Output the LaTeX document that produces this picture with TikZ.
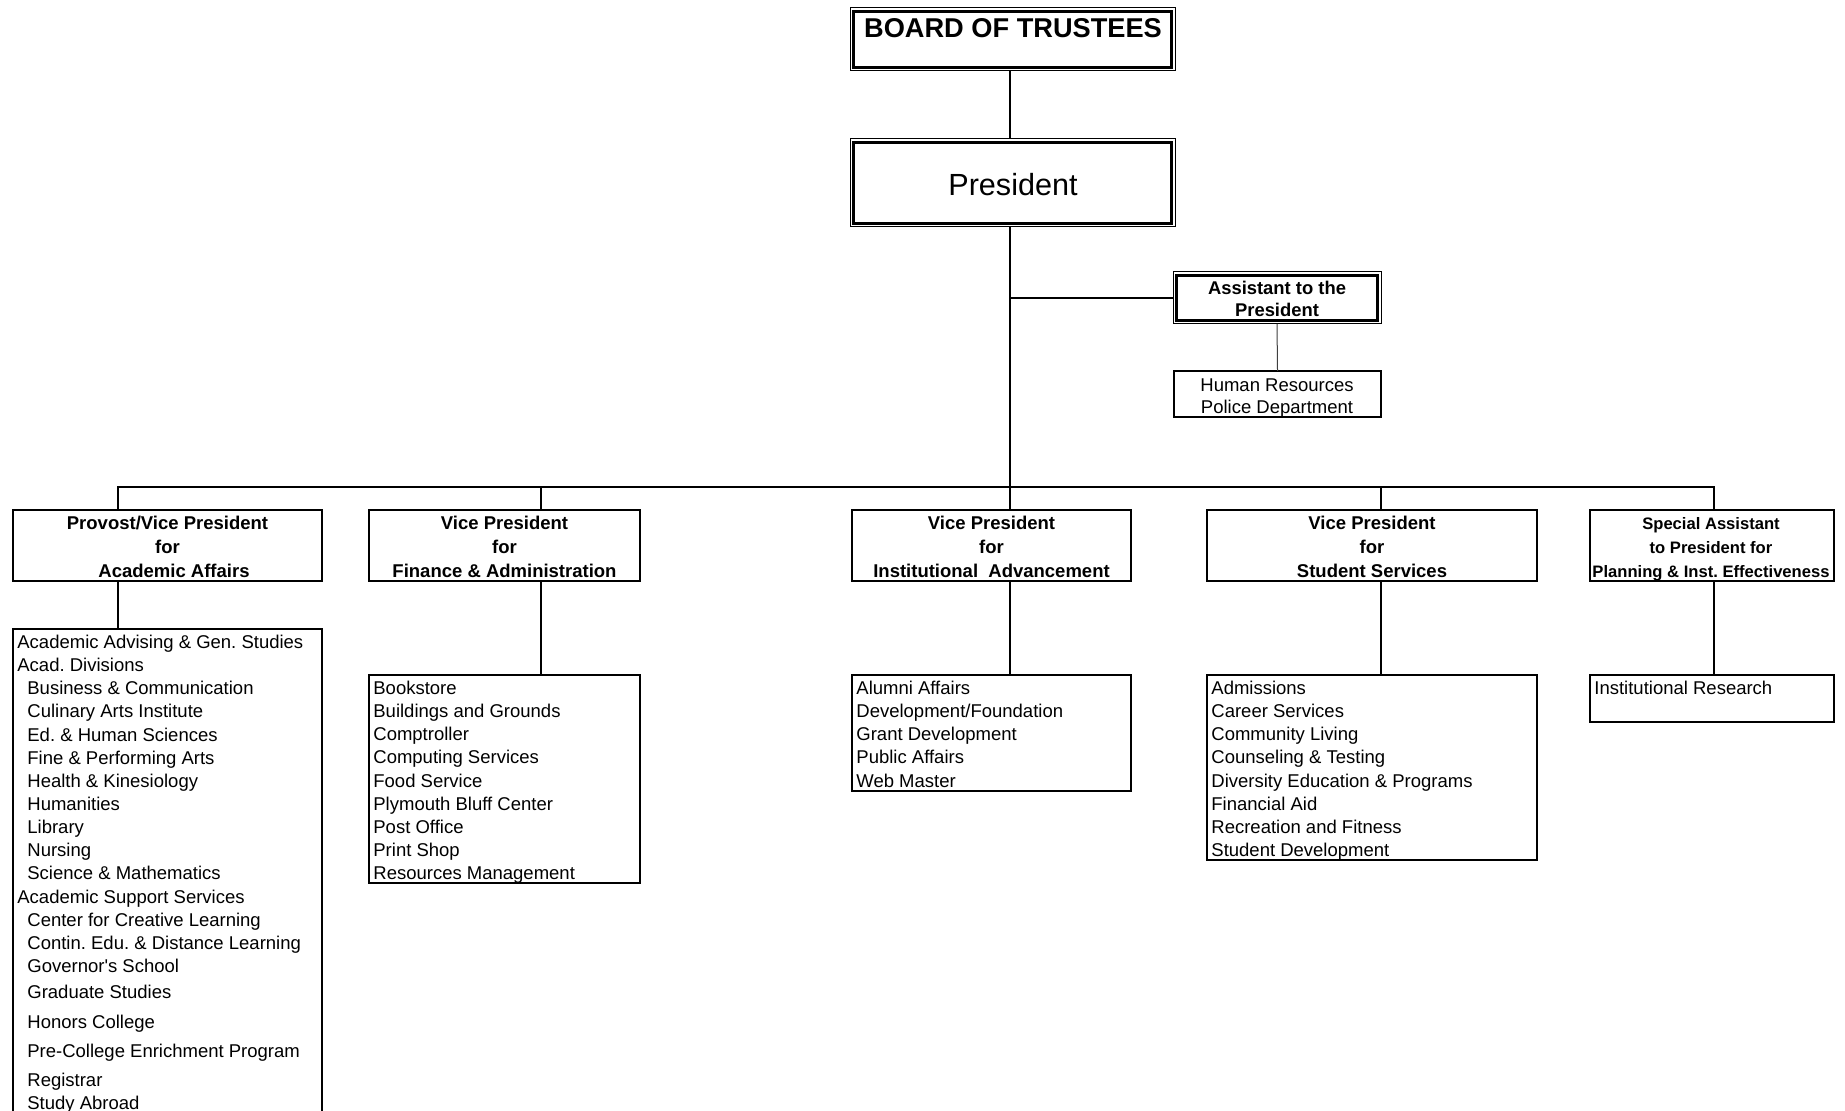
\documentclass[tikz,border=0pt]{standalone}
\usepackage{fontspec}
\setmainfont{Liberation Sans}
\frenchspacing
\newcommand\orgbox[6]{\node[#6, minimum width={(#4-#2)*0.5pt}, minimum height={(#5-#3)*0.5pt}] (#1) at ({(#2+#4)/2},{(#3+#5)/2}) {};}
\newcommand\ind{\hspace*{5pt}}
\begin{document}
\begin{tikzpicture}[x=0.5pt,y=-0.5pt,
  conn/.style={line width=1pt},
  boxn/.style={draw, line width=1pt, rectangle, inner sep=0pt, outer sep=0pt},
  thinbox/.style={draw, line width=0.5pt, rectangle, inner sep=0pt, outer sep=0pt},
  thickline/.style={line width=1.6pt},
  txt/.style={inner sep=0pt, anchor=base},
  ltxt/.style={inner sep=0pt, anchor=base west, font=\fontsize{9.25}{11.57}\selectfont},
  head/.style={inner sep=0pt, anchor=base, font=\bfseries\fontsize{9.25}{12}\selectfont},
]
\useasboundingbox (0,0) rectangle (1845,1111);
\clip (0,0) rectangle (1845,1111);
\fill[white] (0,0) rectangle (1845,1111);

% top boxes
\orgbox{board}{850}{8}{1175}{71}{thinbox}
\draw[thickline] ([shift={(3.5,3.5)}]board.north west) rectangle ([shift={(-3.5,-3.5)}]board.south east);
\node[txt, font=\bfseries\fontsize{13.6}{16}\selectfont] (boardT) at (1013,37.5) {BOARD OF TRUSTEES};

\orgbox{pres}{850}{139}{1175}{227}{thinbox}
\draw[thickline] ([shift={(3.5,3.5)}]pres.north west) rectangle ([shift={(-3.5,-3.5)}]pres.south east);
\node[txt, font=\fontsize{15.3}{18}\selectfont] (presT) at (1013,195.5) {President};

\orgbox{asst}{1173}{272}{1381}{324}{thinbox}
\draw[thickline] ([shift={(3.5,3.5)}]asst.north west) rectangle ([shift={(-3.5,-3.5)}]asst.south east);
\node[head, font=\bfseries\fontsize{9.2}{11}\selectfont] (asstT) at (1277,294.5) {\begin{tabular}[t]{@{}c@{}}Assistant to the\\President\end{tabular}};

\orgbox{hr}{1174}{371}{1381}{417}{boxn}
\node[txt, font=\fontsize{9.25}{11}\selectfont] (hrT) at (1277,391.5) {\begin{tabular}[t]{@{}c@{}}Human Resources\\Police Department\end{tabular}};

% level 2 boxes
\orgbox{prov}{13}{510}{322}{581}{boxn}
\orgbox{fin}{369}{510}{640}{581}{boxn}
\orgbox{inst}{852}{510}{1131}{581}{boxn}
\orgbox{stud}{1207}{510}{1537}{581}{boxn}
\orgbox{spec}{1590}{510}{1834}{581}{boxn}

\node[head] (provT) at (167.5,529.5) {\begin{tabular}[t]{@{}c@{}}Provost/Vice President\\for\\\hspace*{6.5pt}Academic Affairs\end{tabular}};
\node[head] (finT) at (504.5,529.5) {\begin{tabular}[t]{@{}c@{}}Vice President\\for\\Finance \& Administration\end{tabular}};
\node[head] (instT) at (991.5,529.5) {\begin{tabular}[t]{@{}c@{}}Vice President\\for\\Institutional\ \ Advancement\end{tabular}};
\node[head] (studT) at (1372,529.5) {\begin{tabular}[t]{@{}c@{}}Vice President\\for\\Student Services\end{tabular}};
\node[head, font=\bfseries\fontsize{8.3}{12}\selectfont] (specT) at (1711,529.5) {\begin{tabular}[t]{@{}c@{}}Special Assistant\\to President for\\Planning \& Inst. Effectiveness\end{tabular}};

% level 3 boxes
\orgbox{acad}{13}{629}{322}{1140}{boxn}
\orgbox{finL}{369}{675}{640}{883}{boxn}
\orgbox{instL}{852}{675}{1131}{791}{boxn}
\orgbox{studL}{1207}{675}{1537}{860}{boxn}
\orgbox{ir}{1590}{675}{1834}{722}{boxn}

\node[ltxt] (acadT) at (17,648.5) {\begin{tabular}[t]{@{}l@{}}
Academic Advising \& Gen. Studies\\
Acad. Divisions\\
\ind Business \& Communication\\
\ind Culinary Arts Institute\\
\ind Ed. \& Human Sciences\\
\ind Fine \& Performing Arts\\
\ind Health \& Kinesiology\\
\ind Humanities\\
\ind Library\\
\ind Nursing\\
\ind Science \& Mathematics\\
Academic Support Services\\
\ind Center for Creative Learning\\
\ind Contin. Edu. \& Distance Learning\\
\ind Governor\textquotesingle s School\\[1.5pt]
\ind Graduate Studies\\[3.3pt]
\ind Honors College\\[3pt]
\ind Pre-College Enrichment Program\\[3pt]
\ind Registrar\\
\ind Study Abroad
\end{tabular}};

\node[ltxt] (finLT) at (373,694.5) {\begin{tabular}[t]{@{}l@{}}
Bookstore\\
Buildings and Grounds\\
Comptroller\\
Computing Services\\
Food Service\\
Plymouth Bluff Center\\
Post Office\\
Print Shop\\
Resources Management
\end{tabular}};

\node[ltxt] (instLT) at (856,694.5) {\begin{tabular}[t]{@{}l@{}}
Alumni Affairs\\
Development/Foundation\\
Grant Development\\
Public Affairs\\
Web Master
\end{tabular}};

\node[ltxt] (studLT) at (1211,694.5) {\begin{tabular}[t]{@{}l@{}}
Admissions\\
Career Services\\
Community Living\\
Counseling \& Testing\\
Diversity Education \& Programs\\
Financial Aid\\
Recreation and Fitness\\
Student Development
\end{tabular}};

\node[ltxt] (irT) at (1594,694.5) {Institutional Research};

% connectors
\coordinate (c1) at (118,487);
\coordinate (c2) at (541,487);
\coordinate (c3) at (1010,487);
\coordinate (c4) at (1381,487);
\coordinate (c5) at (1714,487);

\draw[conn] (board.south -| c3) -- (pres.north -| c3);
\draw[conn] (pres.south -| c3) -- (c3);
\draw[conn] (asst.west) -- (asst.west -| c3);
\draw[line width=0.5pt, black!75] (asst.south) -- (hr.north);

\draw[conn] (c1 |- prov.north) -- (c1) -- (c5) -- (c5 |- spec.north);
\draw[conn] (c2) -- (c2 |- fin.north);
\draw[conn] (c3) -- (c3 |- inst.north);
\draw[conn] (c4) -- (c4 |- stud.north);

\draw[conn] (c1 |- prov.south) -- (c1 |- acad.north);
\draw[conn] (c2 |- fin.south) -- (c2 |- finL.north);
\draw[conn] (c3 |- inst.south) -- (c3 |- instL.north);
\draw[conn] (c4 |- stud.south) -- (c4 |- studL.north);
\draw[conn] (c5 |- spec.south) -- (c5 |- ir.north);
\end{tikzpicture}
\end{document}
